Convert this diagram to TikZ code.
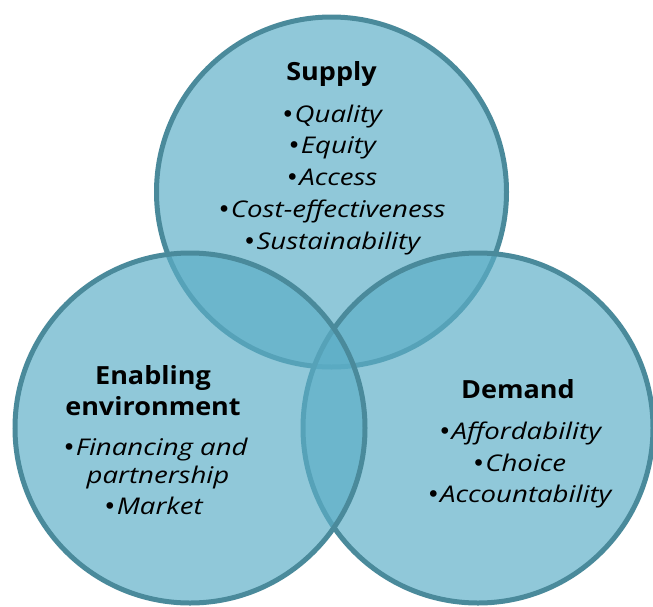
\documentclass[tikz,border=0pt]{standalone}
\usepackage{fontspec}
\setmainfont{Open Sans}
\newfontfamily\headfont{Open Sans}[FakeStretch=1.08]
\newfontfamily\itemfont{Open Sans}[FakeStretch=1.2]
\newfontfamily\bulfont{DejaVu Sans}
\newcommand\bul{{\bulfont •}}
\definecolor{fillc}{RGB}{92,174,199}
\definecolor{strokec}{RGB}{74,138,155}
\begin{document}
\begin{tikzpicture}[x=1pt,y=-1pt,
  circ/.style={fill=fillc, fill opacity=0.68, draw=strokec, draw opacity=1, line width=5pt},
  head/.style={anchor=base, inner sep=0pt, font=\headfont\fontsize{25}{30}\selectfont\bfseries},
  item/.style={anchor=base, inner sep=0pt, font=\itemfont\fontsize{23}{28}\selectfont\itshape}]
\useasboundingbox (0,0) rectangle (653,606);
\fill[white] (0,0) rectangle (653,606);
\coordinate (ctop) at (331.5,192);
\coordinate (cleft) at (190,428);
\coordinate (cright) at (478,428);
\draw[circ] (ctop) circle [radius=175];
\draw[circ] (cright) circle [radius=175];
\draw[circ] (cleft) circle [radius=175];
% Supply
\node[head] (s0) at (331.5,80) {Supply};
\node[item] (s1) at (331.5,122) {\bul Quality};
\node[item] (s2) at (331.5,153) {\bul Equity};
\node[item] (s3) at (331.5,185) {\bul Access};
\node[item] (s4) at (331.5,217) {\bul Cost-effectiveness};
\node[item] (s5) at (331.5,249) {\bul Sustainability};
% Enabling environment
\node[head] (e0) at (153,384) {Enabling};
\node[head] (e1) at (153,415) {environment};
\node[item] (e2) at (155,455) {\bul Financing and};
\node[item] (e3) at (158,483) {partnership};
\node[item] (e4) at (153,514) {\bul Market};
% Demand
\node[head] (d0) at (518,398) {Demand};
\node[item] (d1) at (519.5,439) {\bul Affordability};
\node[item] (d2) at (519,471) {\bul Choice};
\node[item] (d3) at (519,502) {\bul Accountability};
\end{tikzpicture}
\end{document}
